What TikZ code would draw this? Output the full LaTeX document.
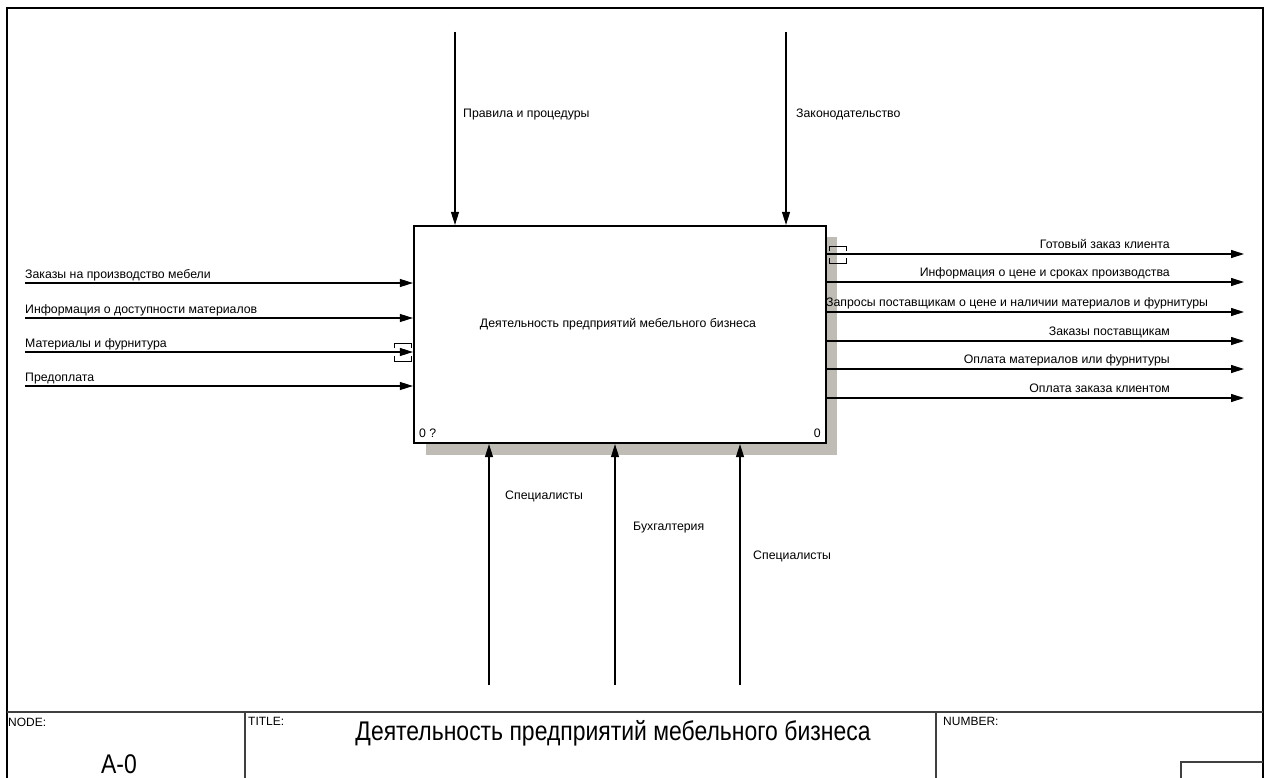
\documentclass[tikz,border=0pt]{standalone}
\usepackage{fontspec}
\setmainfont{Liberation Sans}
\newfontfamily\condfont[FakeStretch=0.85]{Liberation Sans}
\usetikzlibrary{arrows.meta}
\begin{document}
\begin{tikzpicture}[x=1pt,y=-1pt,
  arr/.style={line width=1.1pt,-{Triangle[length=13pt,width=8pt]}},
  lbl/.style={inner sep=0pt,font=\fontsize{12.3}{14}\selectfont},
  small/.style={inner sep=0pt,font=\fontsize{12}{14}\selectfont},
  big/.style={inner sep=0pt,font=\condfont\fontsize{27}{30}\selectfont},
  tun/.style={line width=1pt},
  frame/.style={line width=2.6pt},
  sep/.style={line width=1.3pt,draw=black!75}]
\useasboundingbox (0,0) rectangle (1268,778);
% outer frame
\draw[frame] (7,790) -- (7,8) -- (1263,8) -- (1263,790);
% title block
\draw[sep] (7,712) -- (1263,712);
\draw[sep] (245,712) -- (245,790);
\draw[sep] (936,712) -- (936,790);
\draw[sep] (1181,790) -- (1181,762) -- (1263,762);
\node[small,anchor=north west] (nodelbl) at (8,717.5) {NODE:};
\node[small,anchor=north west] (titlelbl) at (248,717.5) {TITLE:};
\node[small,anchor=north west] (numlbl) at (943,717.5) {NUMBER:};
\node[big,anchor=base] (nodeval) at (119,773) {A-0};
\node[big,anchor=base] (titleval) at (613,740) {Деятельность предприятий мебельного бизнеса};
% shadow and box
\fill[fill={rgb,255:red,190;green,188;blue,180}] (426,237) rectangle (837,455);
\node[draw,line width=2.2pt,fill=white,minimum width=412pt,minimum height=217pt,inner sep=0pt] (main) at (620,334.5) {};
\node[lbl] (maintext) at (618,324) {Деятельность предприятий мебельного бизнеса};
\node[lbl,anchor=south west] (boxnum) at (419,438) {0 ?};
\node[lbl,anchor=south east] (boxnode) at (821,438) {0};
% controls
\coordinate (c1) at (455,32);
\coordinate (c2) at (786,32);
\draw[arr] (c1) -- (c1 |- main.north);
\draw[arr] (c2) -- (c2 |- main.north);
\node[lbl,anchor=base west] (c1l) at (463,118) {Правила и процедуры};
\node[lbl,anchor=base west] (c2l) at (796,118) {Законодательство};
% mechanisms
\coordinate (m1) at (489,685);
\coordinate (m2) at (615,685);
\coordinate (m3) at (740,685);
\draw[arr] (m1) -- (m1 |- main.south);
\draw[arr] (m2) -- (m2 |- main.south);
\draw[arr] (m3) -- (m3 |- main.south);
\node[lbl,anchor=base west] (m1l) at (505,499) {Специалисты};
\node[lbl,anchor=base west] (m2l) at (633,530) {Бухгалтерия};
\node[lbl,anchor=base west] (m3l) at (753,559) {Специалисты};
% inputs
\coordinate (i1) at (25,283);
\coordinate (i2) at (25,318);
\coordinate (i3) at (25,352);
\coordinate (i4) at (25,386);
\draw[arr] (i1) -- (i1 -| main.west);
\draw[arr] (i2) -- (i2 -| main.west);
\draw[arr] (i3) -- (i3 -| main.west);
\draw[arr] (i4) -- (i4 -| main.west);
\node[lbl,anchor=base west] (i1l) at (25,278) {Заказы на производство мебели};
\node[lbl,anchor=base west] (i2l) at (25,313) {Информация о доступности материалов};
\node[lbl,anchor=base west] (i3l) at (25,347) {Материалы и фурнитура};
\node[lbl,anchor=base west] (i4l) at (25,381) {Предоплата};
% input tunnel
\draw[tun] (394,348) -- (394,343) -- (411,343) -- (411,348);
\draw[tun] (394,356) -- (394,361) -- (411,361) -- (411,356);
% outputs
\coordinate (o1) at (1244,254);
\coordinate (o2) at (1244,282);
\coordinate (o3) at (1244,312);
\coordinate (o4) at (1244,341);
\coordinate (o5) at (1244,369);
\coordinate (o6) at (1244,398);
\draw[arr] (o1 -| main.east) -- (o1);
\draw[arr] (o2 -| main.east) -- (o2);
\draw[arr] (o3 -| main.east) -- (o3);
\draw[arr] (o4 -| main.east) -- (o4);
\draw[arr] (o5 -| main.east) -- (o5);
\draw[arr] (o6 -| main.east) -- (o6);
\node[lbl,anchor=base east] (o1l) at (1170,248) {Готовый заказ клиента};
\node[lbl,anchor=base east] (o2l) at (1170,276) {Информация о цене и сроках производства};
\node[lbl,anchor=base west] (o3l) at (826,306) {Запросы поставщикам о цене и наличии материалов и фурнитуры};
\node[lbl,anchor=base east] (o4l) at (1170,335) {Заказы поставщикам};
\node[lbl,anchor=base east] (o5l) at (1170,363) {Оплата материалов или фурнитуры};
\node[lbl,anchor=base east] (o6l) at (1170,392) {Оплата заказа клиентом};
% output tunnel
\draw[tun] (829,251) -- (829,246) -- (846,246) -- (846,251);
\draw[tun] (829,258) -- (829,263) -- (846,263) -- (846,258);
\end{tikzpicture}
\end{document}
